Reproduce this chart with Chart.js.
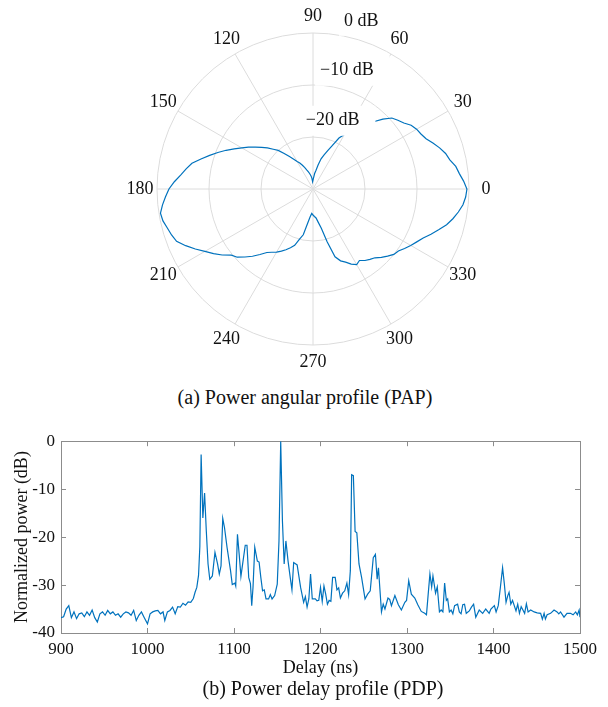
<!DOCTYPE html>
<html>
<head>
<meta charset="utf-8">
<script src="https://cdn.jsdelivr.net/npm/chart.js@4"></script>
<style>
  html, body { margin: 0; padding: 0; background: #fff; }
  #fig { position: relative; width: 608px; height: 707px; overflow: hidden;
         font-family: "Liberation Serif", "Times New Roman", serif; color: #111; }
  #pap { position: absolute; left: 0; top: 0; }
  #pdp { position: absolute; left: 0; top: 420px; }
  .cap { position: absolute; font-size: 20px; line-height: 1; white-space: nowrap;
         transform: translate(-50%, -50%); }
</style>
</head>
<body>
<div id="fig">
  <canvas id="pap" width="608" height="380"></canvas>
  <canvas id="pdp" width="608" height="287"></canvas>
  <div class="cap" style="left:305px; top:397px">(a) Power angular profile (PAP)</div>
  <div class="cap" style="left:323px; top:688px">(b) Power delay profile (PDP)</div>
</div>
<script>
// ---------- (a) power angular profile ----------
// azimuth in degrees, counter-clockwise from east, 3 degree steps
const papAngles = [];
for (let a = 0; a < 360; a += 3) papAngles.push(a);

// normalized received power (dB) at each azimuth; null = no sample
const papPower = [
  -0.4, -1.0, -1.7, -2.2, -3.1, -3.6, -4.4, -5.3, -6.2, -6.7,          //   0 ..  27
  -7.0, -7.5, -8.4, -9.0, -9.6, -11.0, -12.6, null, null, null,         //  30 ..  57
  -17.9, -19.0, -20.8, -22.1, -23.1, -24.0, -25.3, -26.4, -27.0, -27.8, //  60 ..  87
  -28.3, -28.6, -27.9, -27.4, -27.0, -26.6, -26.2, -25.6, -25.0, -24.4, //  90 .. 117
  -23.9, -23.2, -22.3, -21.2, -20.0, -19.2, -18.2, -17.3, -16.3, -15.2, // 120 .. 147
  -14.2, -13.0, -11.7, -10.4, -9.1, -7.7, -6.2, -5.3, -4.4, -3.3,       // 150 .. 177
  -2.3, -1.6, -0.9, -0.3, -0.5, -1.0, -1.4, -1.9, -3.2, -4.6,           // 180 .. 207
  -6.0, -7.2, -8.4, -9.8, -10.4, -11.5, -12.6, -13.8, -14.9, -15.5,     // 210 .. 237
  -16.0, -16.6, -17.2, -17.9, -18.6, -20.0, -21.0, -23.3, -24.6, -25.3, // 240 .. 267
  -25.0, -24.7, -24.4, -23.5, -22.3, -19.5, -16.3, -15.2, -14.6, -13.8, // 270 .. 297
  -13.2, -13.6, -13.0, -12.6, -12.2, -11.4, -10.7, -10.0, -9.7, -9.0,   // 300 .. 327
  -8.3, -7.6, -6.8, -5.7, -4.6, -3.4, -2.5, -1.7, -1.0, -0.6            // 330 .. 357
];

// radial rings and their labels
const papRingTicks  = [0, -10, -20];
const papRingLabels = ['0 dB', '\u221210 dB', '\u221220 dB'];

// ---------- (b) power delay profile ----------
const pdpDelay = [
  900, 903, 906, 909, 912, 915, 918, 921, 924, 927, 930, 933, 936, 939, 942, 945, 948, 951, 954, 957,
  960, 963, 966, 969, 972, 975, 978, 981, 984, 987, 990, 993, 996, 1000, 1003, 1006, 1009, 1012, 1015, 1018,
  1020, 1023, 1026, 1029, 1032, 1035, 1038, 1041, 1044, 1047, 1050, 1053, 1055, 1057, 1059, 1060.5, 1062, 1064, 1066, 1068,
  1070, 1072, 1075, 1078, 1081, 1083, 1085, 1087, 1089, 1092, 1096, 1098, 1101, 1102, 1104, 1106, 1108, 1110, 1113, 1115,
  1117, 1119, 1120.5, 1122, 1124, 1127, 1129, 1131, 1133, 1135, 1137, 1140, 1142, 1144, 1147, 1150, 1152, 1154, 1156, 1158,
  1160, 1162.5, 1165, 1167, 1169, 1173, 1177, 1180.5, 1182.5, 1184.5, 1186.5, 1188.5, 1190.5, 1194, 1196, 1198, 1200, 1202, 1204, 1206,
  1208, 1210, 1212, 1214, 1217, 1219, 1221, 1223, 1225.5, 1228, 1230.5, 1232.5, 1234.5, 1236, 1238, 1240, 1242, 1244.5, 1247.5, 1251.5,
  1254.5, 1257.5, 1261, 1263.5, 1265.5, 1267, 1268.5, 1270.5, 1272.5, 1274.5, 1278, 1280, 1282, 1286, 1290, 1293.5, 1297.5, 1299.5, 1302, 1305,
  1309, 1312.5, 1316.5, 1320.5, 1322.5, 1324.5, 1326.5, 1328.5, 1330, 1333, 1335, 1337.5, 1339.5, 1341.5, 1343.5, 1345.5, 1347, 1349, 1351, 1353,
  1355, 1358.5, 1360.5, 1362.5, 1364.5, 1366.5, 1368.5, 1372, 1374.5, 1377, 1379.5, 1383.5, 1387.5, 1391, 1395, 1397, 1401, 1403, 1405.5, 1408,
  1410.5, 1412.5, 1414.5, 1416.5, 1418, 1420, 1422, 1424, 1426, 1428, 1430, 1432, 1434, 1436, 1438, 1440, 1443, 1447, 1450.5, 1454.5,
  1456.5, 1458.5, 1460, 1462, 1466, 1470, 1473.5, 1475.5, 1477.5, 1481.5, 1485, 1489, 1492, 1495, 1497, 1499, 1500
];
const pdpPower = [
  -36.8, -36.6, -35.0, -34.3, -36.8, -35.6, -37.0, -36.0, -35.8, -36.6, -35.6, -36.3, -35.2, -36.8, -37.7, -36.0, -35.6, -36.3, -35.3, -36.0,
  -35.6, -36.3, -36.0, -36.7, -36.0, -35.6, -35.8, -36.3, -35.3, -37.4, -36.3, -35.6, -36.7, -38.1, -36.0, -35.6, -35.4, -35.3, -36.0, -35.6,
  -37.4, -35.6, -35.3, -34.6, -36.0, -34.5, -34.6, -33.8, -34.2, -33.5, -33.6, -32.8, -31.5, -30.5, -28.0, -22.0, -2.8, -16.0, -10.8, -18.8,
  -25.6, -28.8, -28.1, -23.2, -25.6, -27.7, -26.0, -16.1, -18.0, -22.2, -27.0, -29.9, -29.6, -30.2, -19.4, -23.6, -28.2, -25.6, -21.7, -21.7,
  -28.4, -29.7, -34.3, -30.4, -22.1, -25.0, -25.2, -28.4, -31.2, -31.0, -32.9, -32.9, -32.0, -32.9, -32.2, -29.8, -20.8, 0.0, -16.7, -25.6,
  -20.8, -25.0, -28.4, -31.0, -25.3, -25.8, -30.5, -33.6, -32.4, -34.6, -32.9, -27.7, -32.9, -32.9, -33.3, -33.2, -30.5, -33.4, -30.2, -31.9,
  -34.0, -33.2, -33.4, -28.4, -28.4, -31.0, -30.6, -32.7, -31.7, -31.2, -29.6, -32.0, -27.0, -7.0, -7.2, -18.8, -19.1, -25.6, -28.4, -32.9,
  -31.9, -31.2, -24.3, -23.6, -28.8, -26.4, -30.4, -35.6, -34.0, -35.0, -32.7, -33.0, -34.3, -32.2, -34.1, -35.2, -33.6, -33.2, -29.1, -31.9,
  -32.7, -34.1, -35.5, -35.9, -36.2, -31.9, -27.7, -30.4, -28.1, -31.7, -30.4, -35.6, -35.2, -35.6, -29.6, -33.2, -32.9, -35.6, -35.2, -36.0,
  -34.3, -34.0, -35.6, -36.0, -34.1, -34.0, -35.9, -35.4, -34.6, -34.0, -36.7, -35.2, -35.9, -35.0, -35.9, -35.0, -34.3, -35.6, -34.3, -30.4,
  -26.4, -29.7, -33.6, -32.2, -31.5, -34.0, -33.2, -34.3, -35.4, -34.0, -35.9, -34.5, -35.2, -35.9, -33.9, -35.6, -35.2, -35.6, -35.8, -35.9,
  -37.1, -35.9, -37.1, -36.2, -35.9, -35.2, -35.6, -36.0, -35.6, -36.7, -35.9, -35.9, -36.2, -35.6, -36.2, -35.2, -36.7
];
const pdpXTicks = { min: 900, max: 1500, step: 100 };
const pdpYTicks = { min: -40, max: 0, step: 10 };

// ---------- shared styling ----------
const FONT = '"Liberation Serif", "Times New Roman", serif';
const BLUE = '#0072BD';
const GRID = '#dcdcdc';
const AXIS = '#8c8c8c';
const TXT = '#111111';

// radar indices run clockwise from east, so walk the azimuths backwards
const n = papAngles.length;
const order = papAngles.map((_, i) => (n - i) % n);
const radarLabels = order.map(j => papAngles[j]);
const radarData = order.map(j => papPower[j]);
const isSpoke = i => radarLabels[i] % 30 === 0;

// azimuth labels and ring labels (ring labels sit on white boxes)
const papText = {
  id: 'papText',
  afterDatasetsDraw(chart) {
    const s = chart.scales.r;
    const ctx = chart.ctx;
    ctx.save();
    ctx.font = '18px ' + FONT;
    ctx.textBaseline = 'middle';
    ctx.textAlign = 'left';
    const a = 74 * Math.PI / 180;
    papRingTicks.forEach((v, k) => {
      const d = s.getDistanceFromCenterForValue(v) + 19;
      const cx = s.xCenter + d * Math.cos(a);
      const cy = s.yCenter - d * Math.sin(a);
      const txt = papRingLabels[k];
      const w = ctx.measureText(txt).width;
      const x0 = cx - w / 2;
      ctx.fillStyle = '#fff';
      ctx.fillRect(x0 - 5, cy - 15, w + 21, 30);
      ctx.fillStyle = TXT;
      ctx.fillText(txt, x0, cy);
    });
    ctx.textAlign = 'center';
    radarLabels.forEach((lab, i) => {
      if (!isSpoke(i)) return;
      const p = s.getPointPosition(i, s.drawingArea + 17);
      ctx.fillText(String(lab), p.x, p.y);
    });
    ctx.restore();
  }
};

new Chart(document.getElementById('pap'), {
  type: 'radar',
  data: {
    labels: radarLabels,
    datasets: [{
      data: radarData,
      borderColor: BLUE,
      borderWidth: 1.2,
      pointRadius: 0,
      pointHoverRadius: 0,
      fill: false,
      spanGaps: false,
      tension: 0
    }]
  },
  options: {
    responsive: false,
    animation: false,
    events: [],
    layout: { padding: { left: 157, right: 138, top: 33, bottom: 34 } },
    plugins: { legend: { display: false }, tooltip: { enabled: false } },
    scales: {
      r: {
        min: -30,
        max: 0,
        startAngle: 90,
        ticks: { display: false, stepSize: 10 },
        pointLabels: { display: false },
        grid: { circular: true, color: GRID, lineWidth: 1 },
        angleLines: {
          display: true,
          color: c => isSpoke(c.index) ? GRID : 'rgba(0,0,0,0)',
          lineWidth: c => isSpoke(c.index) ? 1 : 0
        }
      }
    }
  },
  plugins: [papText]
});

// ---------- PDP line chart with a full box and inward ticks ----------
const tickFont = { family: FONT, size: 17 };
const titleFont = { family: FONT, size: 18 };
const boxGrid = { drawOnChartArea: false, drawTicks: true, tickLength: -5, color: AXIS, lineWidth: 1 };
const boxBorder = { display: true, color: AXIS, width: 1 };

new Chart(document.getElementById('pdp'), {
  type: 'line',
  data: {
    datasets: [{
      data: pdpDelay.map((x, i) => ({ x, y: pdpPower[i] })),
      borderColor: BLUE,
      borderWidth: 1.2,
      pointRadius: 0,
      pointHoverRadius: 0,
      fill: false,
      tension: 0
    }]
  },
  options: {
    responsive: false,
    animation: false,
    events: [],
    layout: { padding: { left: 0, right: 25, top: 19, bottom: 28 } },
    plugins: { legend: { display: false }, tooltip: { enabled: false } },
    scales: {
      x: {
        type: 'linear', position: 'bottom',
        min: pdpXTicks.min, max: pdpXTicks.max,
        ticks: { stepSize: pdpXTicks.step, padding: 11, color: TXT, font: tickFont,
                 maxRotation: 0, callback: v => String(v) },
        grid: boxGrid, border: boxBorder,
        title: { display: true, text: 'Delay (ns)', color: TXT, font: titleFont,
                 padding: { top: 0, bottom: 0 } },
        afterFit: sc => { sc.height = 46; }
      },
      xTop: {
        type: 'linear', position: 'top',
        min: pdpXTicks.min, max: pdpXTicks.max,
        ticks: { stepSize: pdpXTicks.step, display: false },
        grid: boxGrid, border: boxBorder,
        afterFit: sc => { sc.height = 0; }
      },
      y: {
        type: 'linear', position: 'left',
        min: pdpYTicks.min, max: pdpYTicks.max,
        ticks: { stepSize: pdpYTicks.step, padding: 11, color: TXT, font: tickFont },
        grid: boxGrid, border: boxBorder,
        title: { display: true, text: 'Normalized power (dB)', color: TXT, font: titleFont,
                 padding: { top: 11, bottom: 0 } },
        afterFit: sc => { sc.width = 61; }
      },
      yRight: {
        type: 'linear', position: 'right',
        min: pdpYTicks.min, max: pdpYTicks.max,
        ticks: { stepSize: pdpYTicks.step, display: false },
        grid: boxGrid, border: boxBorder,
        afterFit: sc => { sc.width = 0; }
      }
    }
  }
});
</script>
</body>
</html>
